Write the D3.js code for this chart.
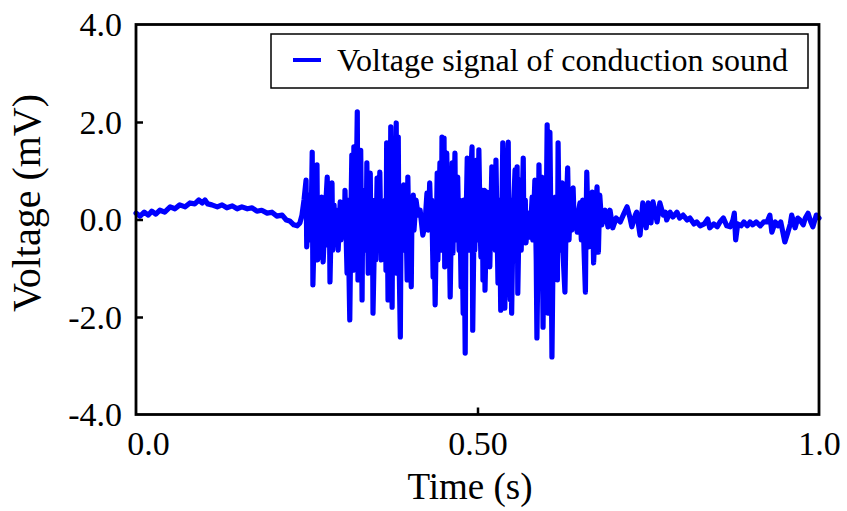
<!DOCTYPE html>
<html>
<head>
<meta charset="utf-8">
<script src="https://cdn.jsdelivr.net/npm/d3@7/dist/d3.min.js"></script>
<style>
  html, body { margin: 0; padding: 0; background: #fff; }
  svg { display: block; }
  text { font-family: "Liberation Serif", "Times New Roman", serif; fill: #000; }
</style>
</head>
<body>
<svg id="chart" width="847" height="511"></svg>
<script>
// ---- Data ----
const timeS = [
  0.000,0.006,0.012,0.018,0.023,0.029,0.035,0.042,0.050,0.057,0.064,0.072,0.079,0.086,0.092,0.097,0.101,0.105,0.111,0.119,
  0.126,0.133,0.141,0.148,0.155,0.163,0.170,0.177,0.184,0.192,0.199,0.206,0.214,0.220,0.225,0.231,0.236,0.240,
  0.243,0.246,0.249,0.250,0.253,0.256,0.258,0.259,0.262,0.264,0.265,0.266,0.269,0.271,0.272,0.274,0.277,0.280,0.281,0.283,
  0.284,0.287,0.288,0.290,0.291,0.294,0.296,0.299,0.300,0.303,0.305,0.306,0.309,0.310,0.313,0.315,0.316,0.318,0.319,0.321,
  0.324,0.325,0.326,0.328,0.329,0.331,0.332,0.334,0.335,0.337,0.338,0.340,0.343,0.344,0.346,0.347,0.350,0.351,0.353,0.354,
  0.357,0.359,0.360,0.362,0.365,0.366,0.367,0.369,0.370,0.372,0.373,0.375,0.376,0.378,0.381,0.382,0.384,0.385,0.387,0.388,
  0.389,0.391,0.392,0.394,0.395,0.397,0.398,0.400,0.401,0.403,0.404,0.406,0.407,0.410,0.413,0.416,0.420,0.423,0.426,0.428,
  0.430,0.432,0.433,0.435,0.436,0.438,0.441,0.442,0.445,0.447,0.448,0.450,0.451,0.452,0.455,0.457,0.458,0.460,0.463,0.464,
  0.467,0.468,0.471,0.473,0.474,0.476,0.477,0.479,0.480,0.482,0.483,0.485,0.486,0.488,0.489,0.492,0.493,0.495,0.496,0.499,
  0.501,0.502,0.504,0.505,0.507,0.508,0.510,0.511,0.514,0.515,0.517,0.518,0.521,0.523,0.524,0.526,0.527,0.530,0.531,0.533,
  0.534,0.536,0.537,0.539,0.540,0.542,0.545,0.546,0.548,0.549,0.550,0.552,0.555,0.556,0.558,0.559,0.561,0.562,0.564,0.567,
  0.568,0.570,0.571,0.574,0.577,0.580,0.581,0.584,0.586,0.587,0.589,0.590,0.592,0.593,0.594,0.596,0.597,0.599,0.600,0.602,
  0.603,0.605,0.606,0.608,0.609,0.611,0.612,0.614,0.617,0.618,0.620,0.621,0.624,0.625,0.628,0.630,0.632,0.634,0.635,0.637,
  0.638,0.640,0.641,0.646,0.647,0.650,0.652,0.654,0.656,0.658,0.659,0.660,0.662,0.663,0.665,0.668,0.670,0.673,0.675,0.677,
  0.679,0.682,0.687,0.691,0.694,0.698,
  0.703,0.709,0.714,0.719,0.723,0.726,0.731,0.733,0.738,0.742,0.747,0.750,0.754,0.757,0.763,0.767,0.772,0.775,0.777,0.782,
  0.786,0.792,0.796,0.801,0.807,0.811,0.817,0.821,0.826,0.832,0.837,0.840,0.846,0.851,0.855,0.860,0.865,0.870,0.874,0.876,
  0.878,0.881,0.886,0.890,0.895,0.899,0.903,0.908,0.914,0.919,0.924,0.928,0.931,0.936,0.940,0.944,0.950,0.954,0.958,0.960,
  0.965,0.969,0.972,0.977,0.980,0.984,0.988,0.991,0.996,1.000
];
const voltageMV = [
  0.13,0.07,0.15,0.09,0.17,0.11,0.19,0.15,0.26,0.22,0.30,0.26,0.34,0.32,0.40,0.34,0.40,0.32,0.30,0.26,
  0.30,0.24,0.28,0.22,0.26,0.22,0.24,0.17,0.19,0.13,0.15,0.07,0.09,-0.01,-0.03,-0.11,-0.13,-0.07,
  0.09,0.40,0.81,-0.56,0.50,-0.42,1.38,-1.34,0.40,-0.63,1.12,-0.83,0.30,-0.77,0.46,-0.87,0.09,0.87,-0.52,0.40,
  -1.28,0.75,-0.63,0.30,-0.48,0.19,-0.63,0.36,-0.42,0.19,-0.32,0.60,-1.10,0.40,-2.06,0.40,1.32,-1.04,1.49,-0.83,
  2.21,-1.24,0.81,-1.04,1.42,-1.65,0.40,-0.63,0.60,-0.42,1.16,-1.10,0.95,-0.63,0.40,-1.92,0.19,-0.83,0.85,-0.63,
  0.97,-0.83,0.09,-0.42,0.40,-1.04,1.57,-1.65,0.40,-0.83,1.90,-1.80,0.81,-1.04,1.98,-1.10,1.69,-0.63,-2.41,-0.22,
  0.40,-0.63,0.71,-0.42,0.40,-1.24,0.87,-0.63,0.30,-1.38,0.09,0.50,-0.22,0.40,0.09,0.19,-0.32,-0.11,0.54,-0.22,
  0.75,-0.15,0.40,-1.18,0.19,-1.75,0.95,-0.83,1.16,-0.63,1.69,-0.22,1.67,-0.97,1.36,-0.42,0.40,-1.59,1.16,-0.69,
  1.36,-0.42,0.87,-0.63,0.40,-1.38,0.19,-1.92,0.40,-2.74,-0.22,1.26,-0.22,-0.63,0.60,1.49,-2.27,-0.01,-0.63,1.22,
  -0.42,1.43,-0.22,-0.77,0.60,-1.24,0.60,-1.45,0.56,-0.42,0.19,-0.97,1.08,-0.42,0.40,-0.63,1.22,-1.30,0.40,-0.63,
  -1.86,0.40,1.57,-0.83,-1.82,0.19,1.59,-0.63,-1.65,0.40,-1.92,-0.01,1.02,-0.83,1.08,-1.51,0.19,0.81,-0.63,1.26,
  -0.42,0.40,-0.48,0.13,-0.36,0.46,-0.42,0.81,-0.83,-2.43,-0.22,1.12,-0.63,-1.38,0.87,-2.21,-0.42,0.34,-0.83,1.94,
  -1.92,0.40,1.79,-0.83,-2.82,-0.22,-1.04,0.46,-1.24,1.57,-0.63,-0.42,0.75,-0.63,-1.49,0.19,1.06,-0.42,-0.01,0.60,
  -0.22,0.65,0.19,-0.26,0.09,0.34,-0.42,0.40,-0.63,-1.49,-0.01,0.97,-0.22,-0.56,0.19,0.56,-0.89,0.19,0.67,-0.67,
  0.50,-0.11,0.19,-0.15,0.19,-0.17,
  0.03,-0.05,0.11,0.26,0.05,-0.15,0.09,0.15,-0.32,0.34,-0.17,0.34,-0.07,0.36,-0.05,0.34,0.09,0.15,-0.01,0.15,
  0.05,0.15,0.03,0.09,-0.01,0.03,-0.09,-0.05,-0.13,-0.09,0.01,-0.17,-0.09,-0.15,-0.05,0.03,-0.13,-0.15,-0.01,0.13,
  -0.42,-0.09,-0.13,-0.05,-0.13,-0.05,-0.11,-0.05,-0.13,-0.05,-0.05,0.09,-0.26,-0.05,-0.13,-0.05,-0.46,-0.28,-0.09,0.09,
  -0.17,0.03,-0.01,-0.11,0.03,0.13,-0.05,-0.15,0.09,0.03
];
const xTicks = [0, 0.5, 1.0];
const xTickLabels = ["0.0", "0.50", "1.0"];
const yTicks = [-4, -2, 0, 2, 4];
const yTickLabels = ["-4.0", "-2.0", "0.0", "2.0", "4.0"];
const seriesName = "Voltage signal of conduction sound";

// ---- Layout ----
const svg = d3.select("#chart");
const L = 136, R = 819, T = 24.5, B = 414.5;
const x = d3.scaleLinear().domain([0, 1]).range([L, R]);
const y = d3.scaleLinear().domain([-4, 4]).range([B, T]);

const data = timeS.map((t, i) => ({ t, v: voltageMV[i] }));

// Signal line
svg.append("path")
  .datum(data)
  .attr("fill", "none")
  .attr("stroke", "#0000ff")
  .attr("stroke-width", 5.2)
  .attr("stroke-linejoin", "round")
  .attr("stroke-linecap", "round")
  .attr("d", d3.line().x(d => x(d.t)).y(d => y(d.v)));

// Axes (inward ticks)
const tickFs = 34, titleFs = 37, yTitleFs = 40, legendFs = 32;
const yAxis = d3.axisLeft(y).tickValues(yTicks).tickSize(-7)
  .tickFormat((d, i) => yTickLabels[i]).tickPadding(14);
const gy = svg.append("g").attr("transform", `translate(${L},0)`).call(yAxis);
gy.select(".domain").remove();
gy.selectAll(".tick line").attr("stroke", "#000").attr("stroke-width", 2.5)
  .attr("display", d => (d === 4 || d === -4) ? "none" : null);
gy.selectAll(".tick text").attr("font-size", tickFs).attr("font-family", "Liberation Serif")
  .attr("dy", "0.33em");

const xAxis = d3.axisBottom(x).tickValues(xTicks).tickSize(-7)
  .tickFormat((d, i) => xTickLabels[i]).tickPadding(14);
const gx = svg.append("g").attr("transform", `translate(0,${B})`).call(xAxis);
gx.select(".domain").remove();
gx.selectAll(".tick line").attr("stroke", "#000").attr("stroke-width", 2.5)
  .attr("display", d => (d === 0 || d === 1) ? "none" : null);
gx.selectAll(".tick text").attr("font-size", tickFs).attr("font-family", "Liberation Serif")
  .attr("dy", null).attr("y", 40)
  .attr("dx", d => d === 0 ? 12 : 0);

// Frame
svg.append("rect")
  .attr("x", L).attr("y", T).attr("width", R - L).attr("height", B - T)
  .attr("fill", "none").attr("stroke", "#000").attr("stroke-width", 2.8);

// Axis titles
svg.append("text")
  .attr("x", 470).attr("y", 499)
  .attr("text-anchor", "middle").attr("font-size", titleFs)
  .text("Time (s)");
svg.append("text")
  .attr("transform", `translate(40,203) rotate(-90)`)
  .attr("text-anchor", "middle").attr("font-size", yTitleFs)
  .text("Voltage (mV)");

// Legend
const lg = svg.append("g");
lg.append("rect")
  .attr("x", 271).attr("y", 34).attr("width", 537).attr("height", 54)
  .attr("fill", "#fff").attr("stroke", "#000").attr("stroke-width", 1.5);
lg.append("line")
  .attr("x1", 293).attr("x2", 321).attr("y1", 60).attr("y2", 60)
  .attr("stroke", "#0000ff").attr("stroke-width", 4);
lg.append("text")
  .attr("x", 337).attr("y", 71).attr("font-size", legendFs)
  .text(seriesName);
</script>
</body>
</html>
